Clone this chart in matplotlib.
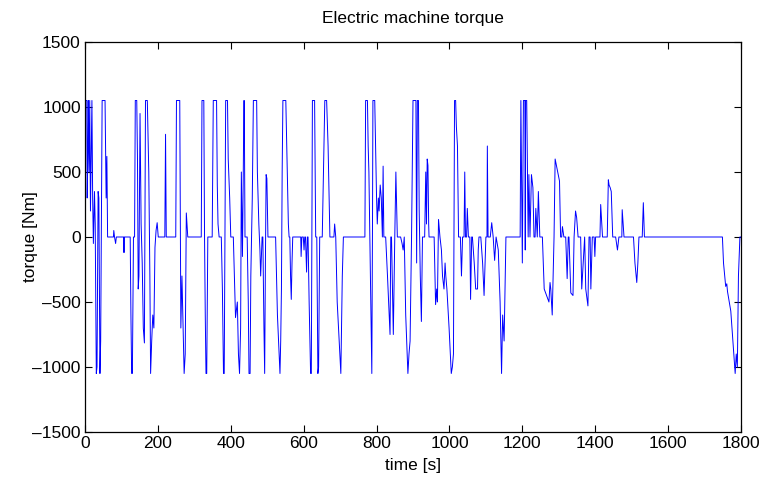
import matplotlib
matplotlib.use('Agg')
import matplotlib.pyplot as plt
import numpy as np

plt.rcParams['font.family'] = ['Liberation Sans Narrow', 'Liberation Sans', 'DejaVu Sans']

# (time [s], torque [Nm]), segment by segment
seg_0_300 = [(0, 0), (1, 1050), (5, 1050), (6, 300), (8, 700), (9, 1050), (11, 500), (13, 1050),
             (15, 200), (17, 600), (19, 1050), (21, 300), (23, -50), (26, 350), (28, 100),
             (31, -1050), (33, -1000), (36, 350), (38, 300), (41, -1050), (43, -800), (47, 1050),
             (55, 1050), (58, 300), (60, 620), (62, 0), (78, 0), (79, 50), (81, 0), (84, -50),
             (86, 0), (106, 0), (107, -120), (108, 0), (124, 0), (126, -600), (128, -1050),
             (130, -1050), (133, 0), (136, 0), (138, 1050), (142, 1050), (144, 600), (146, -400),
             (148, -300), (151, 950), (154, 100), (157, -200), (160, -700), (163, -815),
             (166, 1050), (171, 1050), (175, 500), (178, -300), (180, -1050), (183, -800),
             (186, -600), (189, -700), (192, -80), (195, 50), (198, 110), (201, 0), (219, 0),
             (221, 790), (223, 0), (249, 0), (251, 1050), (260, 1050), (263, -700), (266, -300),
             (272, -1050), (275, -900), (278, 185), (282, 0), (300, 0)]

seg_300_600 = [(319, 0), (321, 1050), (326, 1050), (328, 0), (330, -600), (332, -1050),
               (334, -1050), (337, 0), (349, 0), (352, 1050), (361, 1050), (363, 400), (365, 100),
               (368, 0), (374, 0), (377, -400), (380, -1050), (382, -1050), (386, 1050),
               (391, 1050), (393, 600), (397, 300), (400, 0), (407, 0), (413, -620), (418, -500),
               (421, -900), (424, -1050), (427, -700), (429, 500), (432, -150), (434, 400),
               (436, 1050), (437, 1050), (439, 0), (445, 0), (448, -500), (450, -1050),
               (453, -1050), (455, -300), (459, 300), (462, 1050), (471, 1050), (473, 500),
               (477, 100), (480, -100), (482, -300), (486, 0), (488, 0), (491, -700),
               (493, -1050), (495, -200), (497, 480), (499, 450), (502, 0), (523, 0),
               (528, -600), (535, -1050), (537, -800), (539, -400), (541, 500), (543, 1050),
               (551, 1050), (555, 500), (558, 100), (560, 0), (562, 0), (564, -300), (566, -480),
               (568, -200), (570, 0), (592, 0), (593, -150), (595, 0), (599, 0), (601, -100),
               (603, 0)]

seg_600_900 = [(605, 0), (608, -270), (610, 0), (612, 0), (615, -500), (619, -1050),
               (621, -1050), (624, 1050), (630, 1050), (633, 0), (636, 0), (639, -1050),
               (641, -1000), (644, 0), (651, 0), (658, 1050), (663, 1050), (667, 700),
               (670, 300), (672, 0), (683, 0), (685, 100), (688, 0), (692, -500), (702, -1050),
               (706, -300), (709, 0), (768, 0), (770, 1050), (775, 1050), (777, 700), (779, 500),
               (783, -300), (787, -1050), (789, 200), (790, 1050), (795, 1050), (798, 600),
               (800, 300), (802, 100), (805, 300), (807, 200), (810, 400), (813, 300), (816, 0),
               (818, 545), (820, 0), (825, 0), (830, -300), (837, -750), (839, 0), (841, 0),
               (846, -750), (850, 0), (853, 500), (856, 100), (857, 0), (866, 0), (870, -50),
               (873, -100), (876, 0), (880, -600), (886, -1050), (889, -900), (892, -800),
               (896, 0), (900, 1050), (908, 1050)]

seg_900_1200 = [(910, -200), (912, 1050), (915, 1050), (917, 200), (920, -300), (923, -650),
                (926, 0), (932, 0), (935, 500), (937, 100), (939, 600), (941, 550), (943, 100),
                (944, 0), (958, 0), (962, -520), (965, -400), (967, -500), (970, 135), (974, 0),
                (978, -100), (981, -300), (985, -400), (988, -200), (990, -300), (993, -400),
                (999, -700), (1005, -1050), (1008, -1000), (1011, -900), (1014, 1050),
                (1017, 1050), (1019, 850), (1022, 700), (1025, 0), (1030, 0), (1033, -300),
                (1036, 0), (1040, 0), (1042, 500), (1044, 0), (1047, 0), (1049, 220), (1052, 0),
                (1056, 0), (1058, -480), (1061, 0), (1063, 0), (1068, -200), (1072, -400),
                (1077, -400), (1079, -100), (1081, 0), (1086, 0), (1091, -200), (1095, -450),
                (1100, 0), (1103, 0), (1104, 700), (1106, 0), (1112, 0), (1116, 110), (1120, 0),
                (1124, -180), (1128, 0), (1134, -100), (1139, -500), (1143, -1050), (1146, -600),
                (1150, -800), (1155, 0), (1194, 0), (1196, 1050), (1200, -200), (1203, 1050),
                (1207, 1050)]

seg_1200_1800 = [(1208, -100), (1209, 1050), (1212, 1050), (1216, 0), (1218, 480), (1221, 0),
                 (1225, 480), (1229, 380), (1232, 0), (1235, 0), (1237, 220), (1241, 0),
                 (1244, 350), (1248, 0), (1255, 0), (1260, -400), (1273, -500), (1276, -350),
                 (1278, -400), (1282, -600), (1287, 0), (1290, 600), (1302, 430), (1305, 0),
                 (1308, 0), (1310, 80), (1314, 0), (1319, 0), (1323, -320), (1326, 0), (1328, 0),
                 (1333, -430), (1339, -450), (1342, 0), (1346, 200), (1349, 150), (1353, 0),
                 (1360, 0), (1363, -400), (1368, -150), (1371, 0), (1374, -400), (1380, -530),
                 (1383, 0), (1386, 0), (1388, -400), (1392, 0), (1397, 0), (1399, -150),
                 (1401, 0), (1413, 0), (1415, 250), (1420, 0), (1433, 0), (1436, 440),
                 (1438, 400), (1441, 380), (1444, 350), (1448, 0), (1456, 0), (1461, -100),
                 (1465, 0), (1473, 0), (1474, 210), (1479, 0), (1505, 0), (1509, -200),
                 (1514, -350), (1517, -200), (1520, 0), (1529, 0), (1532, 264), (1535, 0),
                 (1749, 0), (1752, -200), (1758, -380), (1761, -360), (1763, -420),
                 (1772, -570), (1779, -850), (1784, -1050), (1787, -900), (1790, -1000),
                 (1793, -300), (1797, 0), (1800, 0)]

xticks = np.arange(0, 1801, 200)
yticks = np.arange(-1500, 1501, 500)

pts = seg_0_300 + seg_300_600 + seg_600_900 + seg_900_1200 + seg_1200_1800
t = np.array([p[0] for p in pts])
tq = np.array([p[1] for p in pts])

fig = plt.figure(figsize=(7.65, 4.79), dpi=100)
ax = fig.add_axes([85 / 765, 1 - 432 / 479, (741 - 85) / 765, (432 - 42) / 479])
ax.plot(t, tq, color='blue', lw=0.7)

ax.set_xlim(0, 1800)
ax.set_ylim(-1500, 1500)
ax.set_xticks(xticks)
ax.set_yticks(yticks)
ax.set_yticklabels([str(v).replace('-', '\u2013') for v in yticks])
ax.tick_params(direction='in', top=True, right=True, length=5, labelsize=12.5, pad=3)
for s in ax.spines.values():
    s.set_linewidth(0.9)

ax.set_title('Electric machine torque', fontsize=12.5, pad=14)
ax.set_xlabel('time [s]', fontsize=12.5, labelpad=5)
ax.set_ylabel('torque [Nm]', fontsize=12.5)
ax.yaxis.set_label_coords(-0.072, 0.5)

fig.savefig('out.png', dpi=100)
